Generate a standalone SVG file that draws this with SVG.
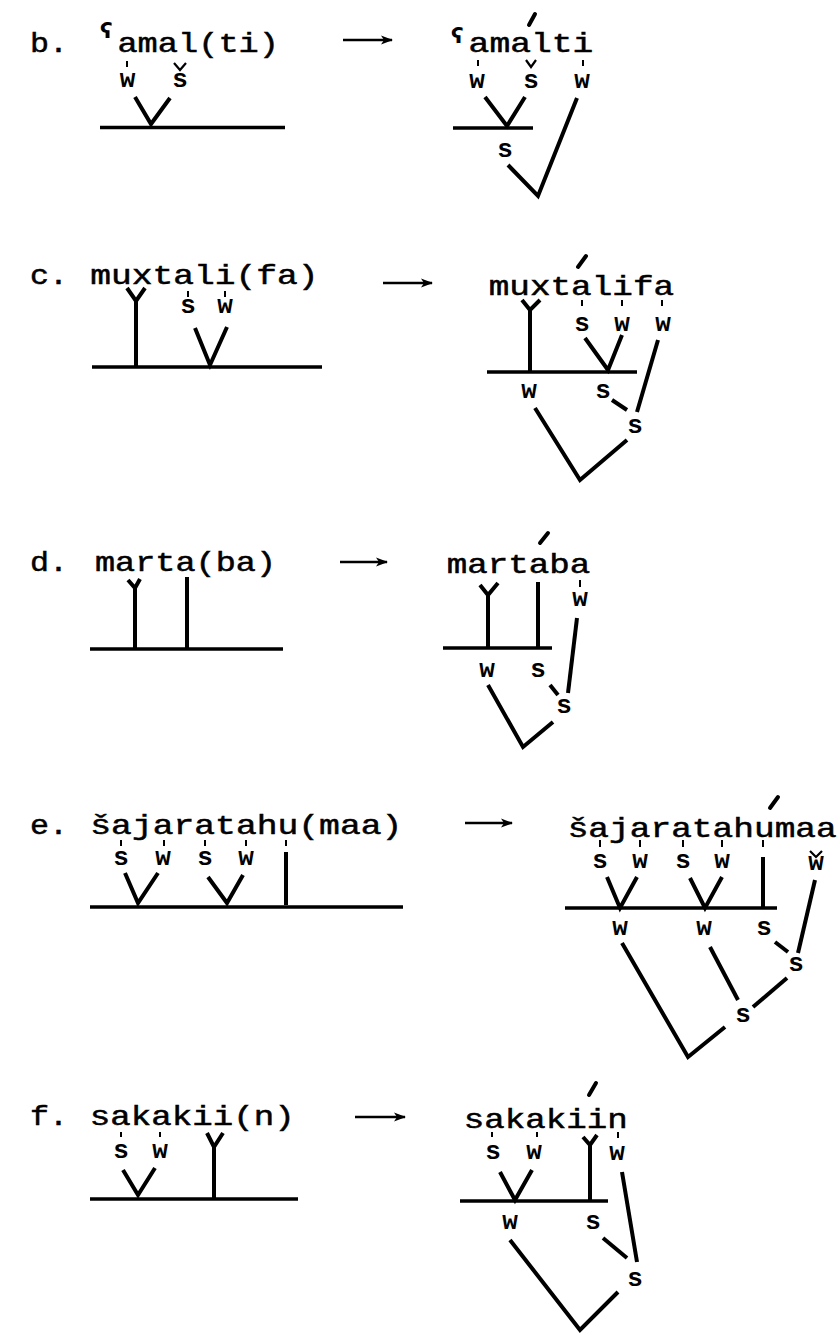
<svg xmlns="http://www.w3.org/2000/svg" width="840" height="1334" viewBox="0 0 840 1334">
<defs>
<style>
.t{font-family:"Liberation Mono","DejaVu Sans Mono",monospace;font-size:28px;fill:#000;stroke:#000;stroke-width:0.5}
.sw{font-family:"Liberation Mono","DejaVu Sans Mono",monospace;font-size:26px;font-weight:bold;fill:#000;text-anchor:middle}
.ay{font-family:"DejaVu Sans",sans-serif;font-size:22px;font-weight:bold;fill:#000}
.ln{stroke:#000;stroke-width:4;fill:none;stroke-linejoin:miter}
.hl{stroke:#000;stroke-width:3.5;fill:none}
.tk{stroke:#000;stroke-width:2;fill:none}
.cr{stroke:#000;stroke-width:2.2;fill:none}
.ac{stroke:#000;stroke-width:4;stroke-linecap:round;fill:none}
.ar{stroke:#000;stroke-width:2.5;fill:none;marker-end:url(#ah)}
</style>
<marker id="ah" markerUnits="userSpaceOnUse" markerWidth="12" markerHeight="10" refX="11" refY="5" orient="auto">
<path d="M0,0.5 L12,5 L0,9.5 L3,5 z" fill="#000"/>
</marker>
</defs>
<rect width="840" height="1334" fill="#fff"/>

<!-- labels -->
<g id="labels">
<text class="t" x="30" y="52" textLength="38" lengthAdjust="spacingAndGlyphs">b.</text>
<text class="t" x="30" y="284" textLength="38" lengthAdjust="spacingAndGlyphs">c.</text>
<text class="t" x="30" y="571" textLength="38" lengthAdjust="spacingAndGlyphs">d.</text>
<text class="t" x="30" y="834" textLength="38" lengthAdjust="spacingAndGlyphs">e.</text>
<text class="t" x="30" y="1125" textLength="38" lengthAdjust="spacingAndGlyphs">f.</text>
</g>

<!-- arrows -->
<g id="arrows">
<line class="ar" x1="343" y1="40" x2="392" y2="40"/>
<line class="ar" x1="383" y1="283" x2="432" y2="283"/>
<line class="ar" x1="340" y1="562" x2="387" y2="562"/>
<line class="ar" x1="465" y1="823" x2="512" y2="823"/>
<line class="ar" x1="355" y1="1117" x2="405" y2="1117"/>
</g>

<!-- b left -->
<g id="b-input">
<text class="ay" x="100" y="38">ʕ</text>
<text class="t" x="117.4" y="52" textLength="161.6" lengthAdjust="spacingAndGlyphs">amal(ti)</text>
<text class="sw" x="127.5" y="87">w</text>
<text class="sw" x="180" y="87">s</text>
</g>
<g id="b-input-connectors">
<line class="tk" x1="127" y1="61" x2="127" y2="67"/>
<polyline class="cr" points="174,63 180,70 186,63"/>
<polyline class="ln" points="135,97 151,124 170,98"/>
<line class="hl" x1="100" y1="127.5" x2="285" y2="127.5"/>
</g>

<!-- b right -->
<g id="b-output">
<text class="ay" x="451" y="43">ʕ</text>
<text class="t" x="468.6" y="52" textLength="124.8" lengthAdjust="spacingAndGlyphs">amalti</text>
<text class="sw" x="477" y="88">w</text>
<text class="sw" x="531" y="88">s</text>
<text class="sw" x="582" y="88">w</text>
<text class="sw" x="505" y="157">s</text>
</g>
<g id="b-output-connectors">
<line class="ac" x1="529" y1="25" x2="535" y2="14"/>
<line class="tk" x1="478" y1="60" x2="478" y2="66"/>
<polyline class="cr" points="526,60 531,67 536,60"/>
<line class="tk" x1="583" y1="60" x2="583" y2="66"/>
<polyline class="ln" points="485,97 507,126 525,97"/>
<line class="hl" x1="453" y1="128" x2="533" y2="128"/>
<polyline class="ln" points="508,165 538,196 577,98"/>
</g>

<!-- c left -->
<g id="c-input">
<text class="t" x="90.3" y="284" textLength="228.3" lengthAdjust="spacingAndGlyphs">muxtali(fa)</text>
<text class="sw" x="188" y="313">s</text>
<text class="sw" x="225" y="313">w</text>
</g>
<g id="c-input-connectors">
<polyline class="ln" points="127,288 136,301 145,288"/>
<line class="ln" x1="136" y1="301" x2="136" y2="367"/>
<line class="tk" x1="188" y1="291" x2="188" y2="297"/>
<line class="tk" x1="225" y1="291" x2="225" y2="297"/>
<polyline class="ln" points="195,328 210,365 227,327"/>
<line class="hl" x1="92" y1="367" x2="322" y2="367"/>
</g>

<!-- c right -->
<g id="c-output">
<text class="t" x="488.7" y="295" textLength="185.4" lengthAdjust="spacingAndGlyphs">muxtalifa</text>
<text class="sw" x="582" y="331">s</text>
<text class="sw" x="622" y="331">w</text>
<text class="sw" x="663" y="331">w</text>
<text class="sw" x="529" y="398">w</text>
<text class="sw" x="603" y="398">s</text>
<text class="sw" x="635" y="433">s</text>
</g>
<g id="c-output-connectors">
<line class="ac" x1="578" y1="267" x2="586" y2="256"/>
<polyline class="ln" points="522,300 530,310 540,300"/>
<line class="ln" x1="530" y1="310" x2="530" y2="372"/>
<line class="tk" x1="582" y1="300" x2="582" y2="306"/>
<line class="tk" x1="622" y1="300" x2="622" y2="306"/>
<line class="tk" x1="662" y1="300" x2="662" y2="306"/>
<polyline class="ln" points="585,338 608,370 622,335"/>
<line class="hl" x1="487" y1="372" x2="637" y2="372"/>
<line class="ln" x1="612" y1="400" x2="627" y2="410"/>
<line class="ln" x1="658" y1="340" x2="637" y2="412"/>
<polyline class="ln" points="535,408 580,480 627,440"/>
</g>

<!-- d left -->
<g id="d-input">
<text class="t" x="95" y="571" textLength="181" lengthAdjust="spacingAndGlyphs">marta(ba)</text>
</g>
<g id="d-input-connectors">
<polyline class="ln" points="128,580 135,588 140,579"/>
<line class="ln" x1="135" y1="588" x2="135" y2="648"/>
<line class="ln" x1="187" y1="577" x2="187" y2="648"/>
<line class="hl" x1="90" y1="649" x2="283" y2="649"/>
</g>

<!-- d right -->
<g id="d-output">
<text class="t" x="446.75" y="573" textLength="143.5" lengthAdjust="spacingAndGlyphs">martaba</text>
<text class="sw" x="580" y="606">w</text>
<text class="sw" x="487" y="677">w</text>
<text class="sw" x="538" y="677">s</text>
<text class="sw" x="564" y="713">s</text>
</g>
<g id="d-output-connectors">
<line class="ac" x1="540" y1="543" x2="548" y2="533"/>
<polyline class="ln" points="480,585 488,595 498,583"/>
<line class="ln" x1="488" y1="595" x2="488" y2="648"/>
<line class="ln" x1="538" y1="582" x2="538" y2="648"/>
<line class="tk" x1="580" y1="580" x2="580" y2="587"/>
<line class="hl" x1="443" y1="648" x2="552" y2="648"/>
<line class="ln" x1="550" y1="685" x2="558" y2="695"/>
<line class="ln" x1="577" y1="618" x2="568" y2="693"/>
<polyline class="ln" points="488,685 523,747 553,722"/>
</g>

<!-- e left -->
<g id="e-input">
<text class="t" x="90.3" y="834" textLength="312" lengthAdjust="spacingAndGlyphs">šajaratahu(maa)</text>
<text class="sw" x="121" y="865">s</text>
<text class="sw" x="163" y="865">w</text>
<text class="sw" x="205" y="865">s</text>
<text class="sw" x="246" y="865">w</text>
</g>
<g id="e-input-connectors">
<line class="tk" x1="121" y1="840" x2="121" y2="846"/>
<line class="tk" x1="164" y1="840" x2="164" y2="846"/>
<line class="tk" x1="205" y1="840" x2="205" y2="846"/>
<line class="tk" x1="246" y1="840" x2="246" y2="846"/>
<line class="tk" x1="286" y1="840" x2="286" y2="846"/>
<line class="ln" x1="286" y1="852" x2="286" y2="905"/>
<polyline class="ln" points="125,873 138,903 158,873"/>
<polyline class="ln" points="208,877 227,903 243,875"/>
<line class="hl" x1="90" y1="907" x2="403" y2="907"/>
</g>

<!-- e right -->
<g id="e-output">
<text class="t" x="567.65" y="837" textLength="269.1" lengthAdjust="spacingAndGlyphs">šajaratahumaa</text>
<text class="sw" x="600" y="868">s</text>
<text class="sw" x="640" y="868">w</text>
<text class="sw" x="683" y="868">s</text>
<text class="sw" x="722" y="868">w</text>
<text class="sw" x="816" y="870">w</text>
<text class="sw" x="620" y="935">w</text>
<text class="sw" x="704" y="935">w</text>
<text class="sw" x="764" y="935">s</text>
<text class="sw" x="796" y="971">s</text>
<text class="sw" x="743" y="1022">s</text>
</g>
<g id="e-output-connectors">
<line class="ac" x1="770" y1="808" x2="778" y2="797"/>
<line class="tk" x1="600" y1="840" x2="600" y2="847"/>
<line class="tk" x1="640" y1="840" x2="640" y2="847"/>
<line class="tk" x1="683" y1="840" x2="683" y2="847"/>
<line class="tk" x1="722" y1="840" x2="722" y2="847"/>
<line class="tk" x1="763" y1="840" x2="763" y2="847"/>
<line class="ln" x1="763" y1="857" x2="763" y2="908"/>
<polyline class="cr" points="810,851 816,857 822,851"/>
<polyline class="ln" points="607,877 620,908 637,877"/>
<polyline class="ln" points="690,878 705,908 722,877"/>
<line class="hl" x1="565" y1="908" x2="777" y2="908"/>
<line class="ln" x1="775" y1="942" x2="788" y2="952"/>
<line class="ln" x1="815" y1="880" x2="798" y2="953"/>
<line class="ln" x1="710" y1="947" x2="738" y2="1000"/>
<line class="ln" x1="787" y1="978" x2="753" y2="1007"/>
<polyline class="ln" points="622,943 688,1057 725,1027"/>
</g>

<!-- f left -->
<g id="f-input">
<text class="t" x="89.75" y="1125" textLength="205" lengthAdjust="spacingAndGlyphs">sakakii(n)</text>
<text class="sw" x="121" y="1158">s</text>
<text class="sw" x="160" y="1158">w</text>
</g>
<g id="f-input-connectors">
<line class="tk" x1="121" y1="1132" x2="121" y2="1137"/>
<line class="tk" x1="160" y1="1132" x2="160" y2="1137"/>
<polyline class="ln" points="123,1170 138,1195 155,1168"/>
<polyline class="ln" points="207,1133 214,1147 223,1133"/>
<line class="ln" x1="214" y1="1147" x2="214" y2="1198"/>
<line class="hl" x1="90" y1="1199" x2="298" y2="1199"/>
</g>

<!-- f right -->
<g id="f-output">
<text class="t" x="463.75" y="1128" textLength="164" lengthAdjust="spacingAndGlyphs">sakakiin</text>
<text class="sw" x="493" y="1159">s</text>
<text class="sw" x="534" y="1159">w</text>
<text class="sw" x="617" y="1160">w</text>
<text class="sw" x="510" y="1229">w</text>
<text class="sw" x="593" y="1229">s</text>
<text class="sw" x="635" y="1286">s</text>
</g>
<g id="f-output-connectors">
<line class="ac" x1="589" y1="1095" x2="596" y2="1083"/>
<line class="tk" x1="492" y1="1132" x2="492" y2="1137"/>
<line class="tk" x1="537" y1="1132" x2="537" y2="1137"/>
<line class="tk" x1="618" y1="1132" x2="618" y2="1138"/>
<polyline class="ln" points="583,1137 590,1145 597,1135"/>
<line class="ln" x1="590" y1="1145" x2="590" y2="1200"/>
<polyline class="ln" points="500,1172 515,1200 532,1170"/>
<line class="hl" x1="460" y1="1201" x2="608" y2="1201"/>
<line class="ln" x1="603" y1="1238" x2="627" y2="1258"/>
<line class="ln" x1="622" y1="1172" x2="637" y2="1262"/>
<polyline class="ln" points="510,1240 580,1330 618,1292"/>
</g>
</svg>
